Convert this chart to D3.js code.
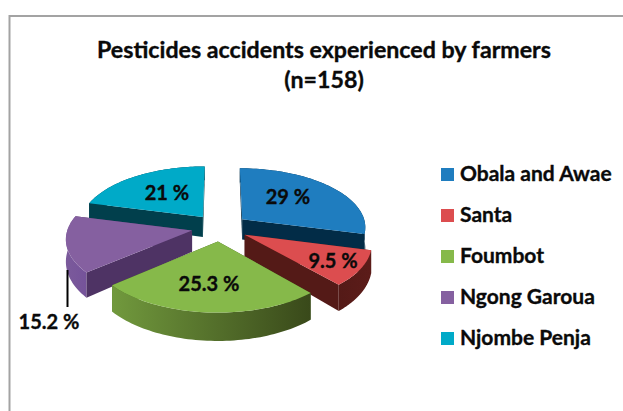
<!DOCTYPE html>
<html><head><meta charset="utf-8">
<script src="https://cdnjs.cloudflare.com/ajax/libs/d3/7.8.5/d3.min.js"></script>
<style>html,body{margin:0;padding:0;background:#fff}svg{display:block}text{font-family:Lato,"Open Sans",sans-serif;font-weight:700;fill:#0a0a0a;stroke:#0a0a0a;stroke-width:.35px}</style>
</head><body><svg id="c" width="623" height="411"></svg>
<script>
const categories = ["Obala and Awae","Santa","Foumbot","Ngong Garoua","Njombe Penja"];
const values = [29,9.5,25.3,15.2,21];
const valueLabels = ["29 %","9.5 %","25.3 %","15.2 %","21 %"];
const titleLines = ["Pesticides accidents experienced by farmers","(n=158)"];
const topColors = ["#1f7dbf","#dc4d4f","#86b94a","#8560a0","#00aac8"];
const cutColors = ["#022c47","#541a17","#3f5a1e","#4e3364","#013f4c"];
const rimStops = [["#022c47","#022c47"],["#541a17","#5c1c19"],["#71993d","#39491a"],["#7b5a9b","#75539a"],["#013f4c","#013f4c"]];
const labelAnchors = [[288,197],[333,261],[209,284],[49,322],[167,193]];

const svg = d3.select("#c");
const cx=220, cy=227.5, A=124, B=59, persp=0.12, explode=0.23;
function project(u,v){const s=1/(1-persp*v);return [cx+A*u*s, cy+B*v*s];}
const wallH = v => 21+6*v;

svg.append("path").attr("d","M623,16H9.5V411").attr("fill","none").attr("stroke","#a3a3a3").attr("stroke-width",2);

svg.selectAll("text.title").data(titleLines).join("text").attr("class","title")
  .attr("x",324).attr("y",(d,i)=>58+i*30).attr("text-anchor","middle").attr("font-size",23.2).text(d=>d);

const arcs = d3.pie().value(d=>d).sort(null)(values);
const defs = svg.append("defs");
const line = d3.line();
const sliceG = svg.append("g");
[4,0,3,1,2].forEach(i=>{
  const a=arcs[i], mid=(a.startAngle+a.endAngle)/2;
  const ou=explode*Math.sin(mid), ov=-explode*Math.cos(mid);
  const top=(ang,r)=>{const v=ov-r*Math.cos(ang);return project(ou+r*Math.sin(ang),v).concat(v);};
  const drop=p=>[p[0],p[1]+wallH(p[2])];
  const xy=p=>[p[0],p[1]];
  const angs=d3.range(0,61).map(k=>a.startAngle+(a.endAngle-a.startAngle)*k/60);
  const rim=angs.map(t=>top(t,1));
  const apex=top(0,0);
  const g=sliceG.append("g");
  const gid="rim"+i;
  const gr=defs.append("linearGradient").attr("id",gid).attr("gradientUnits","userSpaceOnUse")
    .attr("x1",d3.min(rim,p=>p[0])).attr("x2",d3.max(rim,p=>p[0])).attr("y1",0).attr("y2",0);
  gr.append("stop").attr("offset",0).attr("stop-color",rimStops[i][0]);
  gr.append("stop").attr("offset",1).attr("stop-color",rimStops[i][1]);
  const quad=(p,q)=>[xy(p),xy(q),drop(q),drop(p)];
  const walls=[
    {pts:quad(apex,rim[0]),fill:cutColors[i]},
    {pts:quad(apex,rim[60]),fill:cutColors[i]},
    {pts:rim.map(xy).concat(rim.slice().reverse().map(drop)),fill:`url(#${gid})`}
  ];
  walls.sort((m,n)=>d3.mean(m.pts,p=>p[1])-d3.mean(n.pts,p=>p[1]));
  walls.forEach(w=>g.append("path").attr("d",line(w.pts)+"Z").attr("fill",w.fill));
  g.append("path").attr("d",line([xy(apex)].concat(rim.map(xy)))+"Z").attr("fill",topColors[i]);
});

svg.append("line").attr("x1",67.5).attr("x2",67.5).attr("y1",270).attr("y2",307).attr("stroke","#000").attr("stroke-width",2);

svg.selectAll("text.val").data(valueLabels).join("text").attr("class","val")
  .attr("x",(d,i)=>labelAnchors[i][0]).attr("y",(d,i)=>labelAnchors[i][1]+6.5)
  .attr("text-anchor","middle").attr("font-size",20).text(d=>d);

const ly=d3.scalePoint().domain(categories).range([174.5,338.5]);
const lg=svg.selectAll("g.lg").data(categories).join("g").attr("class","lg").attr("transform",d=>`translate(441,${ly(d)})`);
lg.append("rect").attr("x",0).attr("y",-6.5).attr("width",13).attr("height",13).attr("fill",(d,i)=>topColors[i]);
lg.append("text").attr("x",19).attr("y",6.5).attr("font-size",21).text(d=>d);
</script></body></html>
